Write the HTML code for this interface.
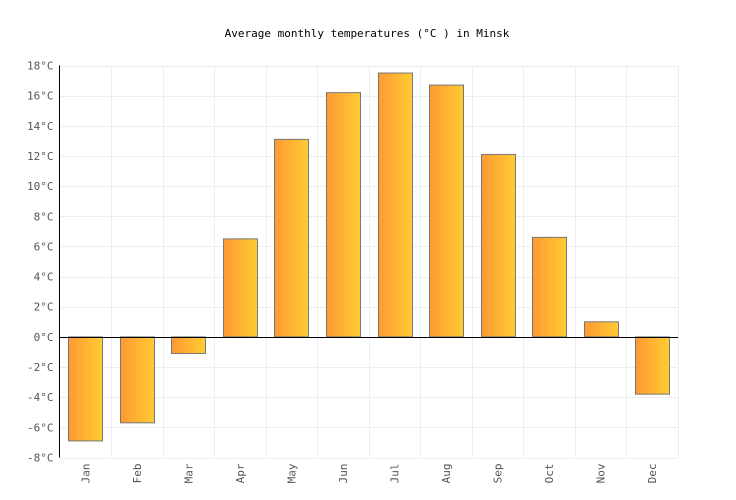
<!DOCTYPE html>
<html><head><meta charset="utf-8"><style>
body{margin:0;background:#fff;}
svg{display:block;font-family:"DejaVu Sans Mono","Liberation Mono",monospace;}
</style></head><body>
<svg id="chart" width="736" height="500">
<defs><linearGradient id="g" x1="0" x2="1" y1="0" y2="0"><stop offset="0" stop-color="#ff9933"/><stop offset="1" stop-color="#ffcc33"/></linearGradient></defs>
<text x="367" y="37" text-anchor="middle" font-size="11" fill="#000">Average monthly temperatures (°C ) in Minsk</text>
<g id="grid"></g><g id="bars"></g><g id="axes"></g>
</svg>
<script>
const months=["Jan","Feb","Mar","Apr","May","Jun","Jul","Aug","Sep","Oct","Nov","Dec"];
const temps=[-6.9,-5.7,-1.1,6.5,13.1,16.2,17.5,16.7,12.1,6.6,1.0,-3.8];
const yTicks=[-8,-6,-4,-2,0,2,4,6,8,10,12,14,16,18];
const NS="http://www.w3.org/2000/svg";
const L=59.5,R=678,T=65.5,B=457.5,ymin=-8,ymax=18;
const y=v=>B-(v-ymin)/(ymax-ymin)*(B-T);
const cw=(R-L)/months.length;
const x=i=>L+cw*i;
function mk(p,tag,a){const e=document.createElementNS(NS,tag);for(const k in a)e.setAttribute(k,a[k]);p.appendChild(e);return e;}
const grid=document.getElementById('grid'),bars=document.getElementById('bars'),axes=document.getElementById('axes');
yTicks.forEach(v=>{
 const l=mk(grid,'line',{x1:L,x2:R,y1:Math.round(y(v))+0.5,y2:Math.round(y(v))+0.5,stroke:'#eeeeee'});
 
 
 const t=mk(axes,'text',{x:L-6,y:y(v)+4,'text-anchor':'end','font-size':'11',fill:'#555'});
 t.textContent=v+'°C';
 
 
});
for(let i=1;i<=months.length;i++){
 const l=mk(grid,'line',{x1:Math.round(x(i))+0.5,x2:Math.round(x(i))+0.5,y1:T,y2:B,stroke:'#eeeeee'});
 
 
}
const bw=34;
temps.forEach((v,i)=>{
 const cx=x(i)+cw/2;
 const top=Math.min(y(v),y(0)),h=Math.abs(y(v)-y(0));
 const r=mk(bars,'rect',{x:Math.round(cx-bw/2)+0.5,y:top,width:bw,height:h,fill:'url(#g)',stroke:'#777',"stroke-width":1});
 
 
 const t=mk(axes,'text',{transform:`translate(${cx+4},${B+6}) rotate(-90)`,'text-anchor':'end','font-size':'11',fill:'#555'});
 t.textContent=months[i];
 
 
});
let a=mk(axes,'line',{x1:L,x2:L,y1:T,y2:B,stroke:'#000'});


a=mk(axes,'line',{x1:L,x2:R,y1:Math.round(y(0))+0.5,y2:Math.round(y(0))+0.5,stroke:'#000'});


</script>
</body></html>
